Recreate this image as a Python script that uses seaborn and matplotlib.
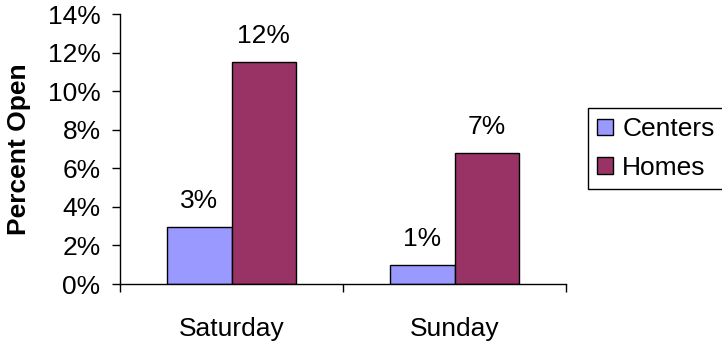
import matplotlib
matplotlib.use("Agg")
import matplotlib.pyplot as plt
import pandas as pd
import seaborn as sns

# 데이터
days = ["Saturday", "Sunday"]
centers = [2.96, 0.99]
homes = [11.5, 6.8]
series_names = ["Centers", "Homes"]
colors = ["#9999FF", "#993366"]

df = pd.DataFrame({
    "day": days * 2,
    "type": [series_names[0]] * 2 + [series_names[1]] * 2,
    "pct": centers + homes,
})

sns.set_style("white")
plt.rcParams["font.family"] = ["Liberation Sans", "DejaVu Sans"]
plt.rcParams["text.color"] = "black"
plt.rcParams["axes.labelcolor"] = "black"
plt.rcParams["xtick.color"] = "black"
plt.rcParams["ytick.color"] = "black"

fig = plt.figure(figsize=(7.22, 3.41), dpi=100)
ax = fig.add_axes([120 / 722, 1 - 284 / 341, 446 / 722, 270 / 341])

sns.barplot(
    data=df, x="day", y="pct", hue="type",
    palette=colors, width=0.574, gap=0,
    edgecolor="black", linewidth=1.0, saturation=1,
    ax=ax,
)

# 막대 위 수치 라벨
for c in ax.containers:
    ax.bar_label(c, fmt="{:.0f}%", padding=10, fontsize=19, color="black")

ax.set_ylim(0, 14)
ax.set_xlim(-0.5, 1.5)
ax.set_yticks(range(0, 15, 2))
ax.set_yticklabels([f"{v}%" for v in range(0, 15, 2)], fontsize=19)
ax.tick_params(axis="y", direction="out", length=6, width=1, pad=8, left=True, color="black")

# 카테고리 라벨은 틱 없이, 경계에만 작은 틱
ax.tick_params(axis="x", which="major", length=0, pad=24, labelsize=19)
ax.set_xticks([-0.5, 0.5, 1.5], minor=True)
ax.tick_params(axis="x", which="minor", direction="out", length=6, width=1, bottom=True, color="black")

ax.set_xlabel("")
ax.set_ylabel("Percent Open", fontsize=19, fontweight="bold", labelpad=12)

sns.despine(ax=ax, top=True, right=True)
for s in ["left", "bottom"]:
    ax.spines[s].set_color("black")
    ax.spines[s].set_linewidth(1)

ax.legend(
    loc="upper left", bbox_to_anchor=(588 / 722, 1 - 108 / 341),
    bbox_transform=fig.transFigure, borderaxespad=0,
    fontsize=19, frameon=True, fancybox=False, framealpha=1,
    edgecolor="black", handlelength=0.6, handleheight=0.6,
    handletextpad=0.35, labelspacing=0.55, borderpad=0.35,
)
ax.get_legend().get_frame().set_linewidth(1)

fig.savefig("out.png", dpi=100)
